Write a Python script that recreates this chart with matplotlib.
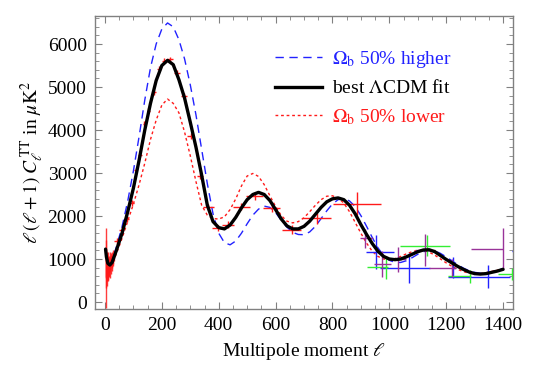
import numpy as np
import matplotlib
matplotlib.use("Agg")
import matplotlib.pyplot as plt
from matplotlib.lines import Line2D

plt.rcParams['font.family'] = ['Liberation Serif', 'DejaVu Serif']
plt.rcParams['mathtext.fontset'] = 'stix'

# ---- model curves ----
ell_fit = [2, 5, 10, 17, 25, 40, 60, 80, 100, 120, 140, 160, 180, 200, 220, 240, 260, 280, 300,
           320, 340, 360, 380, 400, 420, 440, 460, 480, 500, 520, 540, 560, 580, 600, 620, 640,
           660, 680, 700, 720, 740, 760, 780, 800, 820, 840, 860, 880, 900, 920, 940, 960, 980,
           1000, 1020, 1040, 1060, 1080, 1100, 1120, 1140, 1160, 1180, 1200, 1220, 1240, 1260,
           1280, 1300, 1320, 1340, 1360, 1380, 1400]
cl_best = [1230, 1050, 900, 860, 920, 1200, 1600, 2100, 2650, 3300, 4000, 4620, 5150, 5500, 5620,
           5520, 5170, 4740, 4180, 3600, 2950, 2250, 1870, 1730, 1700, 1790, 1970, 2190, 2380,
           2500, 2550, 2500, 2360, 2150, 1930, 1770, 1700, 1700, 1760, 1880, 2040, 2200, 2330,
           2400, 2420, 2380, 2250, 2050, 1800, 1570, 1360, 1180, 1060, 1000, 985, 1000, 1050,
           1110, 1170, 1210, 1215, 1170, 1080, 990, 910, 830, 760, 700, 660, 650, 660, 690, 720, 760]
cl_high = [1250, 1070, 920, 880, 950, 1280, 1750, 2350, 3050, 3850, 4700, 5450, 6000, 6350, 6490,
           6400, 6100, 5650, 5050, 4350, 3550, 2750, 2050, 1600, 1380, 1330, 1420, 1600, 1820,
           2020, 2160, 2230, 2200, 2080, 1900, 1740, 1620, 1570, 1565, 1630, 1760, 1940, 2120,
           2280, 2380, 2410, 2350, 2220, 2010, 1760, 1500, 1260, 1080, 970, 920, 920, 960, 1030,
           1110, 1170, 1200, 1190, 1130, 1050, 960, 870, 790, 730, 690, 670, 680, 700, 740, 780]
cl_low = [1200, 1030, 880, 840, 880, 1120, 1480, 1880, 2280, 2730, 3230, 3780, 4230, 4580, 4720,
          4620, 4400, 3950, 3400, 2800, 2250, 2020, 1940, 1930, 1980, 2150, 2400, 2700, 2930,
          2990, 2920, 2730, 2470, 2220, 2010, 1880, 1840, 1870, 1960, 2100, 2250, 2380, 2460,
          2470, 2420, 2300, 2100, 1850, 1600, 1370, 1180, 1060, 1000, 990, 1010, 1060, 1120,
          1170, 1200, 1200, 1160, 1090, 1000, 910, 830, 760, 710, 670, 650, 660, 680, 710, 740, 770]

# ---- WMAP-like unbinned low-l points ----
ell_low = list(range(2, 31))
cl_lowdata = [785, 1000, 700, 900, 800, 650, 900, 750, 850, 950, 700, 800, 900, 750, 1000, 850,
              900, 700, 950, 800, 1000, 850, 950, 900, 1050, 950, 1000, 1100, 1050]
err_lowdata = [935, 450, 380, 330, 300, 280, 260, 240, 220, 210, 200, 190, 180, 170, 160, 160,
               150, 150, 140, 140, 130, 130, 120, 120, 120, 110, 110, 110, 100]

# ---- binned red points ----
red_l = [41, 59, 76, 94, 108, 123, 138, 152, 172, 190, 208, 228, 253, 278, 302, 334, 363, 398,
         433, 480, 527, 586, 656, 744, 887]
red_c = [1420, 1680, 1930, 2300, 3060, 3430, 4150, 4450, 4880, 5420, 5610, 5640, 5330, 4780,
         3850, 2920, 2210, 1720, 1800, 2220, 2460, 2190, 1680, 1950, 2290]
red_xe = [8, 8, 8, 8, 6, 6, 6, 6, 8, 8, 8, 10, 10, 12, 12, 12, 20, 20, 20, 30, 30, 30, 35, 50, 85]
red_ye = [80, 70, 70, 70, 60, 60, 60, 60, 60, 60, 60, 60, 60, 70, 70, 70, 70, 80, 80, 90, 90,
          100, 110, 130, 260]

# ---- other experiments ----
blue_l = [953, 1070, 1225, 1347, 1470]
blue_c = [1160, 800, 800, 590, 1177]
blue_xlo = [36, 103, 5, 140, 40]
blue_xhi = [62, 72, 5, 76, 40]
blue_ye = [400, 350, 250, 270, 0]

green_l = [990, 1131, 1283, 1433]
green_c = [805, 1309, 595, 650]
green_xlo = [70, 94, 76, 50]
green_xhi = [6, 82, 4, 50]
green_ye = [270, 250, 160, 140]

purple_l = [914, 976, 1030, 1125, 1220, 1400]
purple_c = [1480, 880, 990, 1200, 790, 1240]
purple_xlo = [18, 30, 30, 35, 80, 112]
purple_xhi = [30, 30, 30, 35, 15, 0]
purple_ye = [220, 300, 290, 370, 200, 490]

fig = plt.figure(figsize=(5.4, 3.78), dpi=100)
ax = fig.add_axes([0.176, 0.1825, 0.774, 0.775])

RED = '#ff1a1a'
BLUE = '#2222ff'
GREEN = '#33ee33'
PURPLE = '#993399'

ax.plot(ell_fit, cl_high, color=BLUE, lw=1.0, dashes=(6, 4), zorder=2)
ax.plot(ell_fit, cl_low, color=RED, lw=1.0, dashes=(2, 2), zorder=2)

ekw = dict(fmt='none', elinewidth=1.0, capsize=0, zorder=3)
ax.errorbar(ell_low, cl_lowdata, yerr=err_lowdata, ecolor=RED, alpha=0.85, **ekw)
ax.errorbar(red_l, red_c, xerr=red_xe, yerr=red_ye, ecolor=RED, **ekw)
ax.errorbar(blue_l, blue_c, xerr=[blue_xlo, blue_xhi], yerr=blue_ye, ecolor=BLUE, **ekw)
ax.errorbar(green_l, green_c, xerr=[green_xlo, green_xhi], yerr=green_ye, ecolor=GREEN, **ekw)
ax.errorbar(purple_l, purple_c, xerr=[purple_xlo, purple_xhi], yerr=purple_ye, ecolor=PURPLE, **ekw)

ax.plot(ell_fit, cl_best, color='black', lw=2.4, zorder=4, solid_capstyle='round')

ax.set_xlim(-35, 1435)
ax.set_ylim(-163, 6650)
ax.set_xticks(range(0, 1401, 200))
ax.set_xticks(range(0, 1401, 50), minor=True)
ax.set_yticks(range(0, 6001, 1000))
ax.set_yticks(range(-0, 6601, 200), minor=True)
ax.tick_params(which='both', direction='in', top=True, right=True, color='#808080',
               labelsize=14, pad=6)
ax.tick_params(which='major', length=5, width=0.8)
ax.tick_params(which='minor', length=3, width=0.6)
for s in ax.spines.values():
    s.set_color('#808080')
    s.set_linewidth(1.0)

ax.set_xlabel(r'Multipole moment $\ell$', fontsize=14, labelpad=5)
ax.set_ylabel(r'$\ell\,(\ell+1)\;C_\ell^{\,\mathrm{TT}}$ in $\mu\mathrm{K}^2$', fontsize=14,
              labelpad=1)

handles = [Line2D([], [], color=BLUE, lw=1.0, dashes=(6, 4)),
           Line2D([], [], color='black', lw=2.4),
           Line2D([], [], color=RED, lw=1.0, dashes=(2, 2))]
labels = [r'$\Omega_{\mathrm{b}}$ 50% higher', r'best $\Lambda$CDM fit',
          r'$\Omega_{\mathrm{b}}$ 50% lower']
leg = ax.legend(handles, labels, loc='upper left', bbox_to_anchor=(0.412, 0.915),
                frameon=False, fontsize=14, handlelength=2.4, handletextpad=0.55,
                labelspacing=0.5, borderaxespad=0)
for t, c in zip(leg.get_texts(), [BLUE, 'black', RED]):
    t.set_color(c)

fig.savefig('out.png', dpi=100)
